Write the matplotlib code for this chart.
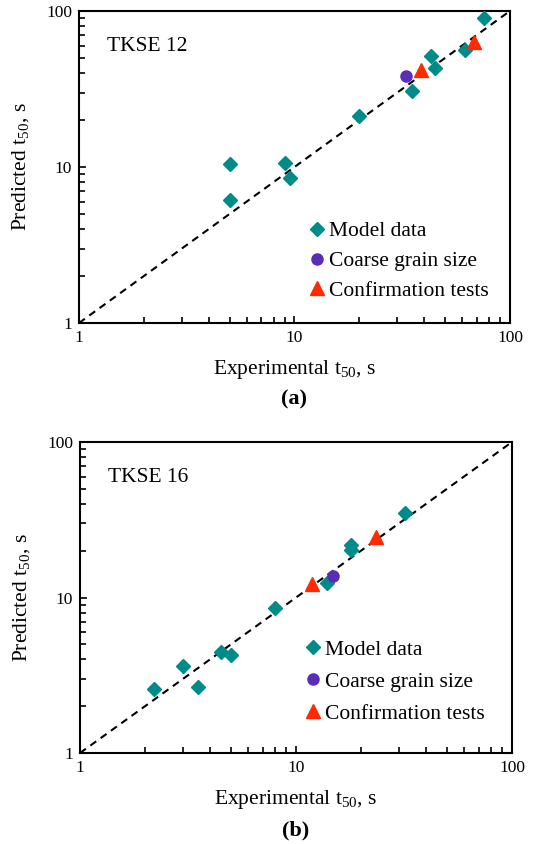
import matplotlib
matplotlib.use("Agg")
import matplotlib.pyplot as plt
from matplotlib.ticker import LogLocator, FixedLocator, NullFormatter, FixedFormatter

plt.rcParams.update({
    "font.family": "serif",
    "font.serif": ["Liberation Serif", "DejaVu Serif"],
    "mathtext.fontset": "custom",
    "mathtext.rm": "Liberation Serif",
    "mathtext.it": "Liberation Serif:italic",
    "axes.linewidth": 1.5,
})

TEAL = "#008b8b"
PURPLE = "#5a2db5"
RED = "#ff2a00"

# Panel (a): TKSE 12
a_model_x = [5.0, 5.0, 9.0, 9.5, 19.9, 35.1, 43.0, 44.9, 62.1, 75.5]
a_model_y = [10.4, 6.1, 10.6, 8.5, 21.3, 30.8, 51.4, 43.3, 56.2, 90.6]
a_coarse_x = [32.9]
a_coarse_y = [38.3]
a_conf_x = [38.6, 68.3]
a_conf_y = [41.8, 63.0]

# Panel (b): TKSE 16
b_model_x = [2.2, 3.0, 3.5, 4.5, 5.0, 8.0, 13.9, 17.9, 17.9, 31.9]
b_model_y = [2.58, 3.64, 2.64, 4.45, 4.28, 8.6, 12.4, 21.7, 20.2, 34.8]
b_coarse_x = [14.9]
b_coarse_y = [13.8]
b_conf_x = [11.8, 23.4]
b_conf_y = [12.2, 24.6]

ticks = [1, 10, 100]
tick_labels = ["1", "10", "100"]


def draw_panel(ax, mx, my, cx, cy, tx, ty, name, panel, leg_anchor, leg_space, panel_y):
    ax.plot([1, 100], [1, 100], color="black", ls=(0, (3.5, 2.6)), lw=1.5, zorder=1)
    ax.plot(mx, my, ls="none", marker="D", ms=7.3, color=TEAL, label="Model data", zorder=3)
    ax.plot(cx, cy, ls="none", marker="o", ms=8, color=PURPLE, label="Coarse grain size", zorder=3)
    ax.plot(tx, ty, ls="none", marker="^", ms=10, color=RED, label="Confirmation tests", zorder=3)

    ax.set_xscale("log")
    ax.set_yscale("log")
    ax.set_xlim(1, 100)
    ax.set_ylim(1, 100)
    for axis in (ax.xaxis, ax.yaxis):
        axis.set_major_locator(FixedLocator(ticks))
        axis.set_major_formatter(FixedFormatter(tick_labels))
        axis.set_minor_locator(LogLocator(base=10, subs=range(2, 10)))
        axis.set_minor_formatter(NullFormatter())
    ax.tick_params(which="both", direction="in", top=False, right=False,
                   labelsize=12.5, width=1.2)
    ax.tick_params(which="major", length=5, pad=5)
    ax.tick_params(which="minor", length=4)

    ax.set_xlabel("Experimental t$_{\\mathregular{50}}$, s", fontsize=15.5, labelpad=9)
    ax.set_ylabel("Predicted t$_{\\mathregular{50}}$, s", fontsize=15.5, labelpad=11)
    ax.text(0.065, 0.885, name, transform=ax.transAxes, fontsize=15.5,
            va="center", ha="left")
    ax.text(0.5, panel_y, panel, transform=ax.transAxes, fontsize=16,
            fontweight="bold", ha="center", va="center")
    ax.legend(loc="upper left", bbox_to_anchor=leg_anchor, frameon=False,
              fontsize=15.5, handlelength=0.6, handletextpad=0.25,
              labelspacing=leg_space, borderaxespad=0, borderpad=0)


fig = plt.figure(figsize=(5.38, 8.44), dpi=100)
ax1 = fig.add_axes([0.1468, 0.6173, 0.8011, 0.3697])
ax2 = fig.add_axes([0.1487, 0.1078, 0.803, 0.3685])

draw_panel(ax1, a_model_x, a_model_y, a_coarse_x, a_coarse_y, a_conf_x, a_conf_y,
           "TKSE 12", "(a)", (0.537, 0.326), 0.45, -0.245)
draw_panel(ax2, b_model_x, b_model_y, b_coarse_x, b_coarse_y, b_conf_x, b_conf_y,
           "TKSE 16", "(b)", (0.524, 0.364), 0.55, -0.25)

fig.savefig("out.png", dpi=100)
